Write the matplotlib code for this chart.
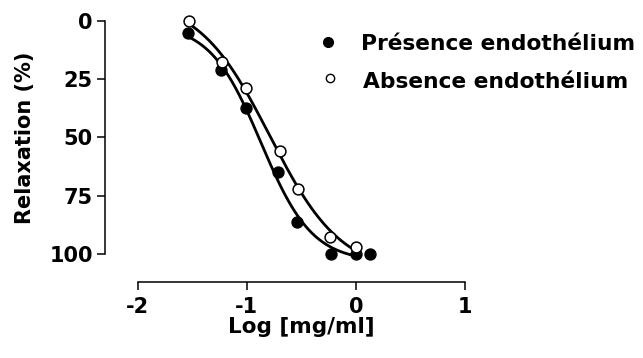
import numpy as np
import matplotlib
matplotlib.use("Agg")
import matplotlib.pyplot as plt
from matplotlib.lines import Line2D

plt.rcParams['font.family'] = ['DejaVu Sans']
plt.rcParams['font.weight'] = 'bold'
plt.rcParams['axes.unicode_minus'] = False

# data
log_conc_with = [-1.54, -1.24, -1.01, -0.71, -0.54, -0.23, 0.0, 0.13]
relax_with = [5.4, 21.1, 37.6, 65.0, 86.1, 100.0, 100.0, 100.0]
log_conc_without = [-1.53, -1.23, -1.01, -0.70, -0.53, -0.235, 0.0]
relax_without = [0.0, 17.8, 28.7, 55.8, 72.0, 92.6, 96.9]

label_with = 'Présence endothélium'
label_without = 'Absence endothélium'
xticks = [-2, -1, 0, 1]
yticks = [0, 25, 50, 75, 100]
curve_from, curve_to = -1.54, 0.0


def fit_sigmoid(x, y):
    # 4-parameter logistic: grid on logEC50/hill, linear solve for bottom/top
    x = np.asarray(x, float)
    y = np.asarray(y, float)
    best = None
    for ec in np.linspace(-1.3, -0.4, 181):
        for h in np.linspace(0.5, 4.0, 141):
            f = 1.0 / (1.0 + 10 ** ((ec - x) * h))
            A = np.column_stack([np.ones_like(f), f])
            coef, *_ = np.linalg.lstsq(A, y, rcond=None)
            sse = np.sum((A @ coef - y) ** 2)
            if best is None or sse < best[0]:
                best = (sse, ec, h, coef)
    _, ec, h, (b, d) = best
    return lambda t: b + d / (1.0 + 10 ** ((ec - t) * h))


fig = plt.figure(figsize=(6.43, 3.58), dpi=100)
ax = fig.add_axes([0.2142, 0.2905, 0.509, 0.6517])

xs = np.linspace(curve_from, curve_to, 200)
for xd, yd, face in [(log_conc_with, relax_with, 'black'),
                     (log_conc_without, relax_without, 'white')]:
    model = fit_sigmoid(xd, yd)
    ax.plot(xs, model(xs), color='black', lw=2.0, zorder=2, clip_on=False)
    ax.plot(xd, yd, 'o', ms=7.8, mfc=face, mec='black', mew=1.1,
            zorder=3, clip_on=False)

ax.set_xlim(-2, 1)
ax.set_ylim(100, 0)
ax.set_xticks(xticks)
ax.set_yticks(yticks)
ax.tick_params(axis='both', labelsize=15, width=1.1, length=6, direction='out')
ax.tick_params(axis='x', pad=5)
ax.tick_params(axis='y', pad=3)
for s in ['top', 'right']:
    ax.spines[s].set_visible(False)
ax.spines['left'].set_position(('outward', 23.3))
ax.spines['bottom'].set_position(('outward', 20.2))
for s in ['left', 'bottom']:
    ax.spines[s].set_linewidth(1.1)

ax.set_xlabel('Log [mg/ml]', fontsize=15.5, fontweight='bold', labelpad=0)
ax.set_ylabel('Relaxation (%)', fontsize=15, fontweight='bold', labelpad=10)

# legend drawn by hand to sit like the original
W, H = 643, 358
fig.add_artist(Line2D([328 / W], [1 - 41.7 / H], marker='o', ms=7,
                      mfc='black', mec='black', ls='none'))
fig.add_artist(Line2D([330.5 / W], [1 - 78.3 / H], marker='o', ms=6,
                      mfc='white', mec='black', mew=1.0, ls='none'))
fig.text(361 / W, 1 - 50 / H, label_with, fontsize=15.7, fontweight='bold',
         va='baseline', ha='left')
fig.text(363 / W, 1 - 88.3 / H, label_without, fontsize=15.7,
         fontweight='bold', va='baseline', ha='left')

fig.savefig('out.png', dpi=100)
